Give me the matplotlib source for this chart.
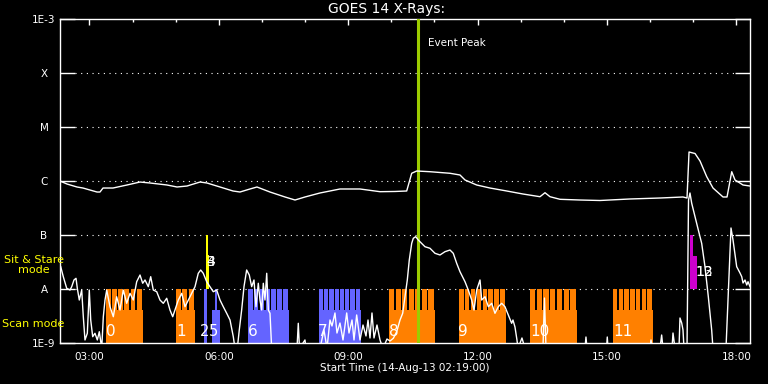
import matplotlib
matplotlib.use('Agg')
import matplotlib.pyplot as plt
from matplotlib.ticker import FixedLocator, NullLocator
import numpy as np

# ---------------- data ----------------
# time in hours of the day (14-Aug-13), flux as log10(W/m^2)
t_long = [2.317, 2.479, 2.711, 2.850, 3.012, 3.175, 3.244, 3.314, 3.546, 3.870, 4.172, 4.404,
          4.798, 5.030, 5.261, 5.563, 5.725, 6.027, 6.328, 6.490, 6.722, 6.884, 7.186, 7.534,
          7.766, 7.998, 8.345, 8.809, 9.273, 9.737, 10.085, 10.356, 10.472, 10.588, 10.896,
          11.360, 11.592, 11.708, 11.979, 12.288, 12.675, 13.053, 13.447, 13.563, 13.679,
          13.911, 14.374, 14.838, 15.533, 16.230, 16.763, 16.856, 16.903, 17.042, 17.158,
          17.313, 17.459, 17.691, 17.784, 17.893, 17.969, 18.155, 18.317]
lf_long = [-6.000, -6.056, -6.111, -6.130, -6.167, -6.204, -6.204, -6.130, -6.130, -6.074, -6.019,
           -6.037, -6.074, -6.111, -6.093, -6.019, -6.037, -6.111, -6.185, -6.204, -6.148, -6.111,
           -6.204, -6.296, -6.352, -6.296, -6.222, -6.148, -6.148, -6.198, -6.194, -6.185, -5.857,
           -5.815, -5.828, -5.857, -5.889, -5.981, -6.074, -6.130, -6.185, -6.241, -6.291, -6.217,
           -6.291, -6.339, -6.352, -6.361, -6.333, -6.315, -6.296, -6.315, -5.463, -5.491, -5.630,
           -5.920, -6.130, -6.296, -6.296, -5.828, -5.981, -6.074, -6.093]

t_short = [2.333, 2.393, 2.472, 2.549, 2.588, 2.641, 2.688, 2.718, 2.764, 2.820, 2.857, 2.896,
           2.950, 2.996, 3.029, 3.075, 3.128, 3.182, 3.228, 3.284, 3.321, 3.360, 3.400, 3.476,
           3.553, 3.631, 3.708, 3.784, 3.863, 3.940, 4.016, 4.095, 4.172, 4.234, 4.288, 4.364,
           4.420, 4.480, 4.559, 4.635, 4.712, 4.791, 4.867, 4.930, 4.983, 5.060, 5.139, 5.215,
           5.292, 5.370, 5.447, 5.523, 5.579, 5.639, 5.718, 5.795, 5.871, 5.950, 6.027, 6.103,
           6.182, 6.259, 6.335, 6.374, 6.428, 6.474, 6.529, 6.583, 6.645, 6.706, 6.761, 6.815,
           6.861, 6.915, 6.954, 6.993, 7.031, 7.070, 7.110, 7.147, 7.186, 7.225, 7.418, 7.812,
           7.842, 7.870, 7.997, 8.021, 8.345, 8.438, 8.508, 8.577, 8.624, 8.693, 8.739, 8.809,
           8.879, 8.965, 9.018, 9.088, 9.134, 9.196, 9.273, 9.343, 9.412, 9.459, 9.505, 9.551,
           9.598, 9.667, 9.737, 9.806, 9.899, 9.969, 10.046, 10.124, 10.201, 10.263, 10.317,
           10.370, 10.416, 10.472, 10.509, 10.565, 10.625, 10.703, 10.780, 10.896, 11.012,
           11.128, 11.244, 11.360, 11.436, 11.515, 11.592, 11.708, 11.784, 11.863, 11.917,
           11.979, 12.056, 12.095, 12.172, 12.249, 12.327, 12.403, 12.480, 12.558, 12.635,
           12.712, 12.790, 12.820, 12.867, 12.913, 12.937, 13.029, 13.099, 13.516, 13.551,
           13.586, 14.490, 14.513, 14.537, 14.989, 15.007, 15.024, 16.000, 16.021, 16.045,
           16.230, 16.268, 16.299, 16.508, 16.531, 16.577, 16.670, 16.693, 16.733, 16.763,
           16.786, 16.856, 16.891, 16.925, 16.965, 17.041, 17.118, 17.196, 17.273, 17.350,
           17.428, 17.458, 17.760, 17.806, 17.876, 17.923, 18.008, 18.085, 18.125, 18.155,
           18.201, 18.241, 18.271, 18.317]
lf_short = [-7.587, -7.772, -7.987, -8.019, -7.957, -7.833, -7.802, -7.987, -8.204, -8.019, -8.513,
            -8.944, -8.820, -8.019, -8.574, -8.883, -8.820, -8.944, -8.791, -9.100, -8.513, -8.204,
            -8.019, -8.328, -8.513, -8.143, -8.389, -8.019, -8.265, -8.080, -8.204, -7.865, -7.741,
            -7.894, -7.833, -7.957, -7.772, -8.019, -8.050, -8.204, -8.265, -8.172, -8.389, -8.513,
            -8.389, -8.204, -8.080, -8.328, -8.204, -8.080, -7.957, -7.709, -7.648, -7.709, -7.865,
            -7.957, -8.050, -8.019, -8.204, -8.328, -8.450, -8.574, -8.883, -9.100, -9.100, -8.759,
            -8.389, -7.957, -7.648, -7.741, -7.957, -7.833, -8.328, -7.894, -8.204, -8.389, -7.894,
            -8.204, -7.709, -8.389, -8.450, -9.100, -9.100, -9.100, -8.635, -9.100, -8.944, -9.100,
            -9.100, -8.759, -9.100, -8.574, -8.685, -8.444, -8.815, -8.630, -8.944, -8.444, -8.815,
            -8.574, -8.944, -8.481, -8.944, -8.667, -8.870, -8.574, -8.907, -8.444, -8.907, -8.667,
            -8.944, -9.100, -8.926, -8.963, -8.913, -8.791, -8.574, -8.450, -8.143, -7.833, -7.463,
            -7.154, -7.061, -7.031, -7.093, -7.154, -7.217, -7.246, -7.339, -7.370, -7.309, -7.278,
            -7.339, -7.524, -7.680, -7.865, -8.019, -8.204, -8.389, -8.019, -7.833, -8.204, -8.143,
            -8.328, -8.265, -8.450, -8.328, -8.265, -8.328, -8.481, -8.635, -8.574, -8.704, -8.944,
            -9.100, -8.907, -9.100, -9.100, -8.167, -9.100, -9.100, -8.889, -9.100, -9.100, -8.889,
            -9.100, -9.100, -8.944, -9.100, -9.100, -8.852, -9.100, -9.100, -8.815, -9.100, -9.100,
            -8.537, -8.630, -8.759, -9.100, -9.100, -6.352, -6.222, -6.413, -6.661, -6.907, -7.154,
            -7.587, -8.143, -8.759, -9.100, -9.100, -8.204, -6.870, -7.093, -7.587, -7.704, -7.772,
            -7.889, -7.833, -7.926, -7.865, -7.957]

# scan-mode observation groups (hours)
scan_labels = ['0', '1', '6', '7', '8', '9', '10', '11']
scan_start = [3.383, 5.006, 6.676, 8.322, 9.946, 11.569, 13.215, 15.139]
scan_end = [4.241, 5.447, 7.627, 9.296, 11.013, 12.659, 14.305, 16.067]
scan_steps = [6, 3, 7, 8, 7, 8, 7, 7]
scan_kind = ['o', 'o', 'b', 'b', 'o', 'o', 'o', 'o']
scan_label_t = [3.50, 5.12, 6.79, 8.41, 10.06, 11.66, 13.45, 15.37]

# short blue scans 2 and 5
short_start = [5.656, 5.841]
short_end = [5.725, 6.027]
short_step_start = [5.656, 5.904]
short_step_end = [5.725, 5.950]
short_labels = ['2', '5']
short_label_t = [5.67, 5.88]

# sit & stare observations
ss_start = [5.702, 16.925]
ss_top_end = [5.748, 16.995]
ss_wide_end = [5.771, 17.080]
ss_wide_level = [-7.37, -7.39]
ss_colors = ['#ffff00', '#cc00cc']
ss_labels = [('3', '4'), ('12', '13')]
ss_label_t = [5.82, 17.25]
ss_label_lf = [-7.50, -7.69]

event_peak = 10.618
level_vals = [1e-3, 1e-4, 1e-5, 1e-6, 1e-7, 1e-8, 1e-9]
level_names = ['1E-3', 'X', 'M', 'C', 'B', 'A', '1E-9']
hour_ticks = [3, 6, 9, 12, 15, 18]

# ---------------- plotting ----------------
ORANGE = '#ff8000'
BLUE = '#6464ff'
W, H = 768, 384
fig = plt.figure(figsize=(W / 100, H / 100), dpi=100, facecolor='black')
ax = fig.add_axes([60 / W, 41 / H, 690 / W, 324 / H])
ax.set_facecolor('black')
ax.set_yscale('log')
x0, x1 = 2 + 19 / 60, 18 + 19 / 60
ax.set_xlim(x0, x1)
ax.set_ylim(1e-9, 1e-3)

BASE = 1e-9
BLOCK = 10 ** -8.39
STEP = 1e-8

def bar(a, b, top, color):
    ax.bar(a, top - BASE, width=b - a, bottom=BASE, align='edge', color=color,
           linewidth=0, zorder=2)

for lab, a, b, n, k, lt in zip(scan_labels, scan_start, scan_end, scan_steps, scan_kind, scan_label_t):
    c = ORANGE if k == 'o' else BLUE
    bar(a, b, BLOCK, c)
    p = (b - a) / n
    for i in range(n):
        bar(a + i * p, a + i * p + 0.78 * p, STEP, c)
    ax.text(lt, 10 ** -8.78, lab, color='white', fontsize=11, ha='center', va='center', zorder=5)

for a, b, sa, sb, lab, lt in zip(short_start, short_end, short_step_start, short_step_end,
                                  short_labels, short_label_t):
    bar(a, b, BLOCK, BLUE)
    bar(sa, sb, STEP, BLUE)
    ax.text(lt, 10 ** -8.78, lab, color='white', fontsize=10.5, ha='center', va='center', zorder=5)

for a, te, we, wl, c, labs, lt, ll in zip(ss_start, ss_top_end, ss_wide_end, ss_wide_level,
                                          ss_colors, ss_labels, ss_label_t, ss_label_lf):
    ax.bar(a, 1e-7 - 1e-8, width=te - a, bottom=1e-8, align='edge', color=c, linewidth=0, zorder=2)
    ax.bar(a, 10 ** wl - 1e-8, width=we - a, bottom=1e-8, align='edge', color=c, linewidth=0, zorder=2)
    for s in labs:
        ax.text(lt, 10 ** ll, s, color='white', fontsize=10, ha='center', va='center', zorder=5)

# dotted class levels
for v in level_vals[1:-1]:
    ax.axhline(v, xmin=15 / 690, xmax=676 / 690, color='white', lw=0.8,
               linestyle=(0, (1, 4.1)), zorder=1)

# curves
ax.plot(t_long, 10 ** np.array(lf_long), color='white', lw=1.0, zorder=4)
ax.plot(t_short, 10 ** np.array(lf_short), color='white', lw=1.0, zorder=4)

# event peak
ax.axvline(event_peak, color='#9ccc00', lw=2.2, zorder=3)
ax.text(event_peak + 10 / 43.125, 10 ** (-3 - 24 / 54), 'Event Peak', color='white',
        fontsize=7.5, ha='left', va='center')

# axes styling
for s in ax.spines.values():
    s.set_color('white')
    s.set_linewidth(1.0)
ax.yaxis.set_major_locator(FixedLocator(level_vals))
ax.yaxis.set_minor_locator(NullLocator())
ax.set_yticklabels(level_names)
ax.tick_params(axis='y', which='major', direction='in', length=10.5, width=1.0,
               left=True, right=True, colors='white', labelsize=7.5, pad=11.5)
for lbl in ax.get_yticklabels():
    lbl.set_horizontalalignment('center')

ax.xaxis.set_major_locator(FixedLocator(hour_ticks))
ax.xaxis.set_minor_locator(FixedLocator(range(3, 19)))
ax.set_xticklabels(['%02d:00' % h for h in hour_ticks])
ax.tick_params(axis='x', which='major', direction='in', length=4.3, width=1.0,
               bottom=False, top=True, colors='white', labelsize=7.5, pad=6.5)
ax.tick_params(axis='x', which='minor', direction='in', length=2.5, width=1.0,
               bottom=False, top=True, colors='white')

fig.text(387 / W, 1 - 9 / H, 'GOES 14 X-Rays:', color='white', fontsize=10,
         ha='center', va='center')
fig.text(405 / W, 1 - 368 / H, 'Start Time (14-Aug-13 02:19:00)', color='white',
         fontsize=7.5, ha='center', va='center')
fig.text(34 / W, 1 - 265 / H, 'Sit & Stare\nmode', color='#ffff00', fontsize=8,
         ha='center', va='center', linespacing=1.0)
fig.text(2 / W, 1 - 324 / H, 'Scan mode', color='#ffff00', fontsize=8,
         ha='left', va='center')

fig.savefig('out.png', dpi=100, facecolor='black')
